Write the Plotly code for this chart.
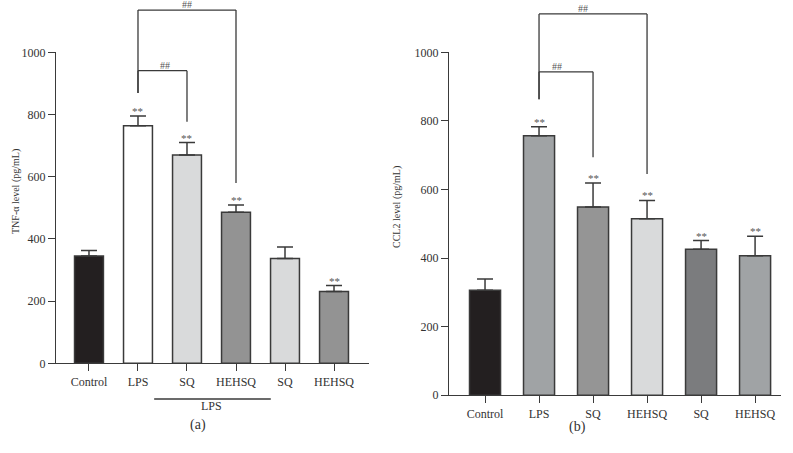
import plotly.graph_objects as go

# ---------------- data ----------------
categories_a = ["Control", "LPS", "SQ", "HEHSQ", "SQ ", "HEHSQ "]
tnf_values = [345, 764, 670, 486, 337, 231]
tnf_err = [18, 31, 40, 23, 37, 19]
tnf_colors = ["#231f20", "#ffffff", "#d9dadb", "#939393", "#d9dadb", "#939393"]
tnf_stars = ["", "**", "**", "**", "", "**"]

categories_b = ["Control", "LPS", "SQ", "HEHSQ", "SQ ", "HEHSQ "]
ccl2_values = [306, 757, 549, 515, 426, 407]
ccl2_err = [33, 26, 70, 53, 25, 57]
ccl2_colors = ["#231f20", "#a0a3a5", "#959595", "#d9dadb", "#7b7c7e", "#a0a3a5"]
ccl2_stars = ["", "**", "**", "**", "**", "**"]

y_ticks = [0, 200, 400, 600, 800, 1000]
YMAX = 1000

# bracket definitions: (left idx, right idx, top level, left-leg bottom, right-leg bottom, label x)
brackets_a = [(1, 3, 1136, 869, 580, 2.0), (1, 2, 941, 869, 777, 1.55)]
brackets_b = [(1, 3, 1112, 863, 645, 1.81), (1, 2, 943, 863, 694, 1.33)]

FONT = "Liberation Serif"
DARK = "#3a3a3a"
TXT = "#333333"

fig = go.Figure()


def add_panel(cats, vals, errs, colors, stars, xa, ya, width):
    fig.add_trace(go.Bar(
        x=list(range(len(cats))), y=vals, width=width,
        marker=dict(color=colors, line=dict(color=DARK, width=1.5)),
        error_y=dict(type="data", array=errs, arrayminus=[0] * len(errs), symmetric=False,
                     color=DARK, thickness=1.5, width=8),
        xaxis=xa, yaxis=ya, showlegend=False, hoverinfo="skip",
    ))
    for i, (v, e, s) in enumerate(zip(vals, errs, stars)):
        if s:
            fig.add_annotation(x=i, y=v + e, xref=xa, yref=ya, text=s, showarrow=False,
                               yanchor="bottom", yshift=-3,
                               font=dict(family=FONT, size=11, color="#555555"))


def add_brackets(brs, xa, ya):
    yd = ya + " domain"
    for (l, r, top, lb, rb, lx) in brs:
        line = dict(color=DARK, width=1.3)
        fig.add_shape(type="line", xref=xa, yref=yd, x0=l, x1=r, y0=top / YMAX, y1=top / YMAX, line=line)
        fig.add_shape(type="line", xref=xa, yref=yd, x0=l, x1=l, y0=top / YMAX, y1=lb / YMAX, line=line)
        fig.add_shape(type="line", xref=xa, yref=yd, x0=r, x1=r, y0=top / YMAX, y1=rb / YMAX, line=line)
        fig.add_annotation(x=lx, y=top / YMAX, xref=xa, yref=yd, text="##", showarrow=False,
                           yanchor="bottom", yshift=-2,
                           font=dict(family=FONT, size=10, color="#555555"))


add_panel(categories_a, tnf_values, tnf_err, tnf_colors, tnf_stars, "x", "y", 0.59)
add_panel(categories_b, ccl2_values, ccl2_err, ccl2_colors, ccl2_stars, "x2", "y2", 0.575)
add_brackets(brackets_a, "x", "y")
add_brackets(brackets_b, "x2", "y2")

axis_common = dict(showline=True, linecolor=DARK, linewidth=1.3, ticks="outside", ticklen=7,
                   tickcolor=DARK, tickwidth=1.3, showgrid=False, zeroline=False, automargin=False,
                   tickfont=dict(family=FONT, size=12, color=TXT))

fig.update_layout(
    template="none",
    width=793, height=453, margin=dict(l=0, r=0, t=0, b=0, pad=0, autoexpand=False),
    paper_bgcolor="white", plot_bgcolor="white",
    xaxis=dict(domain=[56 / 793, 369 / 793], range=[-0.673, 5.714], anchor="y",
               tickmode="array", tickvals=list(range(6)), ticktext=[c.strip() for c in categories_a],
               **axis_common),
    yaxis=dict(domain=[0.198, 0.8845], range=[0, YMAX], anchor="x",
               tickmode="array", tickvals=y_ticks, **axis_common),
    xaxis2=dict(domain=[449 / 793, 781 / 793], range=[-0.667, 5.48], anchor="y2",
                tickmode="array", tickvals=list(range(6)), ticktext=[c.strip() for c in categories_b],
                **axis_common),
    yaxis2=dict(domain=[0.1274, 0.8845], range=[0, YMAX], anchor="x2",
                tickmode="array", tickvals=y_ticks, **axis_common),
)

# LPS group underline and label in panel (a)
fig.add_shape(type="line", xref="x", yref="paper", x0=1.33, x1=3.71, y0=1 - 399 / 453, y1=1 - 399 / 453,
              line=dict(color=DARK, width=1.3))
fig.add_annotation(x=2.51, y=1 - 415 / 453, xref="x", yref="paper", text="LPS", showarrow=False,
                   font=dict(family=FONT, size=12, color=TXT))

# axis titles
fig.add_annotation(x=8 / 793, y=1 - 192 / 453, xref="paper", yref="paper", text="TNF-α level (pg/mL)",
                   textangle=-90, showarrow=False, font=dict(family=FONT, size=10, color=TXT))
fig.add_annotation(x=397 / 793, y=1 - 207 / 453, xref="paper", yref="paper", text="CCL2 level (pg/mL)",
                   textangle=-90, showarrow=False, font=dict(family=FONT, size=10, color=TXT))

# panel labels
fig.add_annotation(x=188 / 793, y=1 - 435 / 453, xref="paper", yref="paper", text="(a)", showarrow=False,
                   font=dict(family=FONT, size=14, color=TXT))
fig.add_annotation(x=588 / 793, y=1 - 437 / 453, xref="paper", yref="paper", text="(b)", showarrow=False,
                   font=dict(family=FONT, size=14, color=TXT))

fig.write_html("out.html", config={"displayModeBar": False},
               post_script="document.body.style.margin='0';document.body.style.overflow='hidden';")
